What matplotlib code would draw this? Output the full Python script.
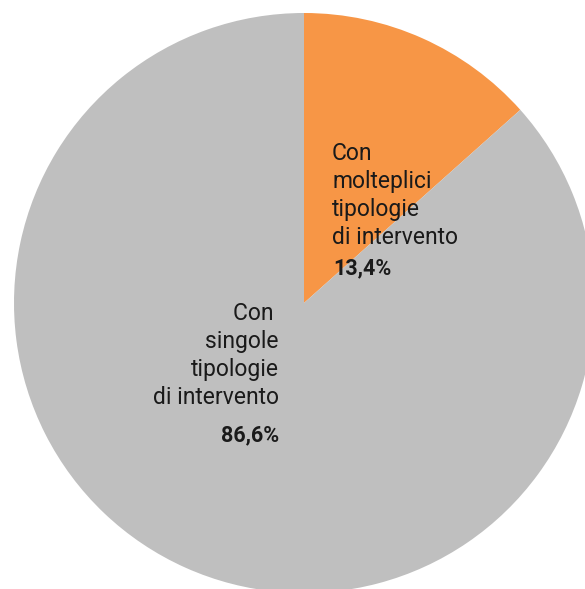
import matplotlib
matplotlib.use('Agg')
import matplotlib.pyplot as plt

plt.rcParams['font.family'] = ['Roboto', 'DejaVu Sans']

# share of interventions
labels = ['Con\nmolteplici\ntipologie\ndi intervento', 'Con \nsingole\ntipologie\ndi intervento']
values = [13.4, 86.6]
pct_labels = ['13,4%', '86,6%']
colors = ['#F79646', '#BFBFBF']

W, H = 585, 589
fig = plt.figure(figsize=(W / 100, H / 100), dpi=100)

# pie centre (304, 303) px, radius 290 px
cx, cy, r = 304, 303, 290
ax = fig.add_axes([(cx - r) / W, (H - cy - r) / H, 2 * r / W, 2 * r / H])
ax.pie(values, colors=colors, startangle=90, counterclock=False, radius=1,
       wedgeprops=dict(linewidth=0))
ax.set_xlim(-1, 1)
ax.set_ylim(-1, 1)
ax.set_aspect('equal')
ax.axis('off')


def px(x, y):
    return x / W, 1 - y / H


fs = 16.5
fig.text(*px(332, 142), labels[0], ha='left', va='top', fontsize=fs,
         color='#1a1a1a', linespacing=1.28)
fig.text(*px(333, 268), pct_labels[0], ha='left', va='center', fontsize=fs - 1,
         fontweight='bold', color='#1a1a1a')
fig.text(*px(279, 302), labels[1], ha='right', va='top', fontsize=fs,
         color='#1a1a1a', linespacing=1.28)
fig.text(*px(279, 435), pct_labels[1], ha='right', va='center', fontsize=fs - 1,
         fontweight='bold', color='#1a1a1a')

fig.savefig('out.png', dpi=100)
